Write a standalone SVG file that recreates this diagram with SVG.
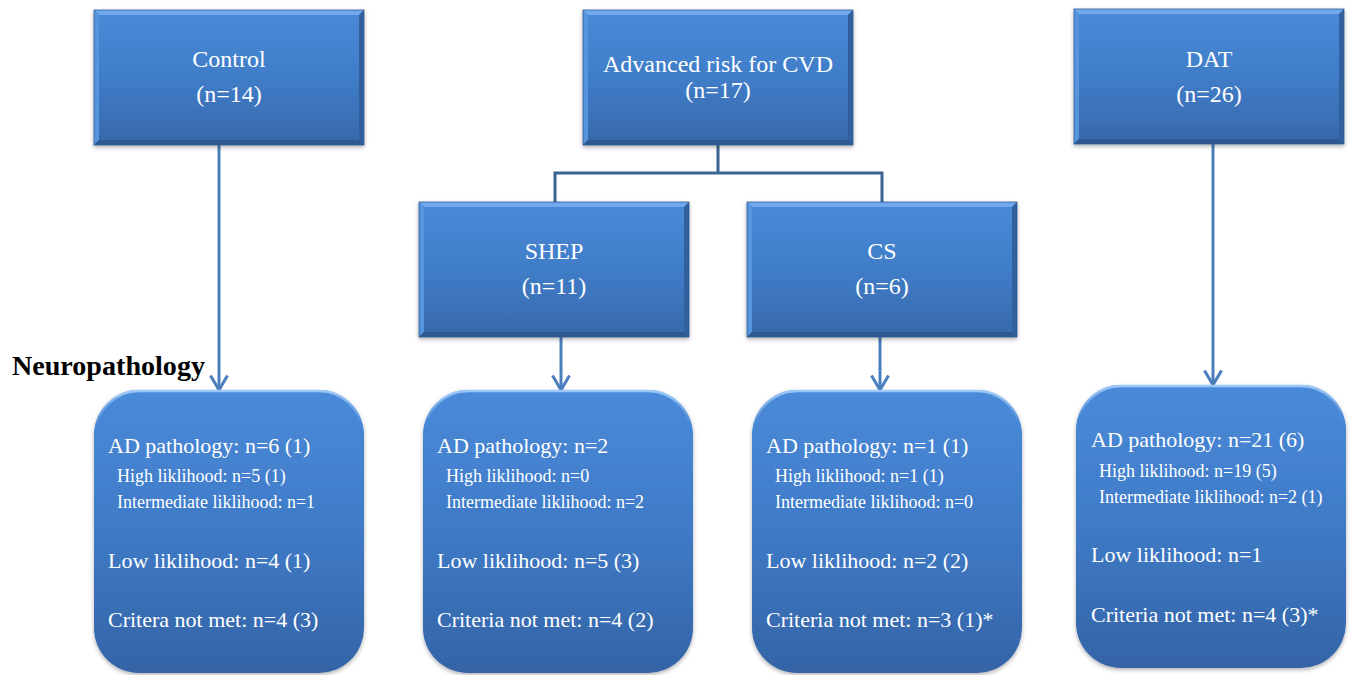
<svg xmlns="http://www.w3.org/2000/svg" xmlns:xlink="http://www.w3.org/1999/xlink" width="1350" height="675" viewBox="0 0 1350 675">
  <style>
    .t { font-family: "Liberation Serif", "Times New Roman", serif; fill: #ffffff; }
    .top { font-size: 24px; text-anchor: middle; }
    .main { font-size: 22px; }
    .sub { font-size: 18px; }
    .title { font-family: "Liberation Serif", "Times New Roman", serif; font-weight: bold; font-size: 27px; fill: #000000; }
    .arrow { stroke: #4a7ebd; stroke-width: 3; fill: none; marker-end: url(#ah); }
    .conn { stroke: #3a6492; stroke-width: 3; fill: none; }
  </style>
  <defs>
    <linearGradient id="gTop" x1="0" y1="0" x2="0" y2="1">
      <stop offset="0" stop-color="#4a8ad8"/>
      <stop offset="0.5" stop-color="#407dc8"/>
      <stop offset="1" stop-color="#3768ab"/>
    </linearGradient>
    <linearGradient id="gRound" x1="0" y1="0" x2="0" y2="1">
      <stop offset="0" stop-color="#4a8ad9"/>
      <stop offset="0.5" stop-color="#3f7ac6"/>
      <stop offset="1" stop-color="#3464a6"/>
    </linearGradient>
    <linearGradient id="gRim" x1="0" y1="0" x2="0" y2="1">
      <stop offset="0" stop-color="#9cc8f7" stop-opacity="1"/>
      <stop offset="0.12" stop-color="#9cc8f7" stop-opacity="0"/>
      <stop offset="1" stop-color="#9cc8f7" stop-opacity="0"/>
    </linearGradient>
    <filter id="sh" x="-10%" y="-10%" width="120%" height="125%">
      <feDropShadow dx="0" dy="2" stdDeviation="2" flood-color="#000000" flood-opacity="0.3"/>
    </filter>
    <marker id="ah" viewBox="0 0 18 20" refX="16" refY="10" markerWidth="18" markerHeight="20" markerUnits="userSpaceOnUse" orient="auto">
      <path d="M1.5,1.5 L16,10 L1.5,18.5" fill="none" stroke="#4a7ebd" stroke-width="3" stroke-linejoin="miter"/>
    </marker>
    <g id="boxTop">
      <rect x="0" y="0" width="270" height="135" fill="url(#gTop)"/>
      <polygon points="0,0 270,0 265,5 5,5" fill="#6fa9ec"/>
      <polygon points="0,0 5,5 5,130 0,135" fill="#5595de"/>
      <polygon points="270,0 270,135 265,130 265,5" fill="#30609c"/>
      <polygon points="0,135 270,135 265,130 5,130" fill="#2d598f"/>
      <rect x="0" y="0" width="270" height="135" fill="none" stroke="#2f5b92" stroke-width="0.8"/>
    </g>
    <g id="boxRound">
      <rect x="0" y="0" width="270" height="283" rx="45" ry="45" fill="url(#gRound)"/>
      <rect x="1" y="1" width="268" height="281" rx="44" ry="44" fill="none" stroke="url(#gRim)" stroke-width="2.5"/>
    </g>
  </defs>

  <rect x="0" y="0" width="1350" height="675" fill="#ffffff"/>

  <g id="connectors">
    <path class="conn" d="M718,145 V173 M555,173 H882 M555,171.5 V202 M882,171.5 V202"/>
    <line class="arrow" x1="219" y1="145" x2="219" y2="390"/>
    <line class="arrow" x1="561" y1="336" x2="561" y2="390"/>
    <line class="arrow" x1="880" y1="336" x2="880" y2="390"/>
    <line class="arrow" x1="1213" y1="144" x2="1213" y2="385"/>
  </g>

  <g id="control">
    <use xlink:href="#boxTop" x="94" y="10" filter="url(#sh)"/>
    <text class="t top" x="229" y="67">Control</text>
    <text class="t top" x="229" y="102">(n=14)</text>
  </g>

  <g id="cvd">
    <use xlink:href="#boxTop" x="583" y="10" filter="url(#sh)"/>
    <text class="t top" x="718" y="72">Advanced risk for CVD</text>
    <text class="t top" x="718" y="98">(n=17)</text>
  </g>

  <g id="dat">
    <use xlink:href="#boxTop" x="1074" y="9" filter="url(#sh)"/>
    <text class="t top" x="1209" y="67">DAT</text>
    <text class="t top" x="1209" y="102">(n=26)</text>
  </g>

  <g id="shep">
    <use xlink:href="#boxTop" x="419" y="202" filter="url(#sh)"/>
    <text class="t top" x="554" y="259">SHEP</text>
    <text class="t top" x="554" y="294">(n=11)</text>
  </g>

  <g id="cs">
    <use xlink:href="#boxTop" x="747" y="202" filter="url(#sh)"/>
    <text class="t top" x="882" y="259">CS</text>
    <text class="t top" x="882" y="294">(n=6)</text>
  </g>

  <g id="neuropathology-label">
    <text class="title" x="12" y="375" textLength="193" lengthAdjust="spacingAndGlyphs">Neuropathology</text>
  </g>

  <g id="control-np">
    <use xlink:href="#boxRound" x="94" y="390" filter="url(#sh)"/>
    <text class="t main" x="108" y="453">AD pathology: n=6 (1)</text>
    <text class="t sub" x="117" y="482">High liklihood: n=5 (1)</text>
    <text class="t sub" x="117" y="508">Intermediate liklihood: n=1</text>
    <text class="t main" x="108" y="568">Low liklihood: n=4 (1)</text>
    <text class="t main" x="108" y="627">Critera not met: n=4 (3)</text>
  </g>

  <g id="shep-np">
    <use xlink:href="#boxRound" x="423" y="390" filter="url(#sh)"/>
    <text class="t main" x="437" y="453">AD pathology: n=2</text>
    <text class="t sub" x="446" y="482">High liklihood: n=0</text>
    <text class="t sub" x="446" y="508">Intermediate liklihood: n=2</text>
    <text class="t main" x="437" y="568">Low liklihood: n=5 (3)</text>
    <text class="t main" x="437" y="627">Criteria not met: n=4 (2)</text>
  </g>

  <g id="cs-np">
    <use xlink:href="#boxRound" x="752" y="390" filter="url(#sh)"/>
    <text class="t main" x="766" y="453">AD pathology: n=1 (1)</text>
    <text class="t sub" x="775" y="482">High liklihood: n=1 (1)</text>
    <text class="t sub" x="775" y="508">Intermediate liklihood: n=0</text>
    <text class="t main" x="766" y="568">Low liklihood: n=2 (2)</text>
    <text class="t main" x="766" y="627">Criteria not met: n=3 (1)*</text>
  </g>

  <g id="dat-np">
    <use xlink:href="#boxRound" x="1076" y="385" filter="url(#sh)"/>
    <text class="t main" x="1091" y="447">AD pathology: n=21 (6)</text>
    <text class="t sub" x="1099" y="477">High liklihood: n=19 (5)</text>
    <text class="t sub" x="1099" y="503">Intermediate liklihood: n=2 (1)</text>
    <text class="t main" x="1091" y="562">Low liklihood: n=1</text>
    <text class="t main" x="1091" y="622">Criteria not met: n=4 (3)*</text>
  </g>
</svg>
